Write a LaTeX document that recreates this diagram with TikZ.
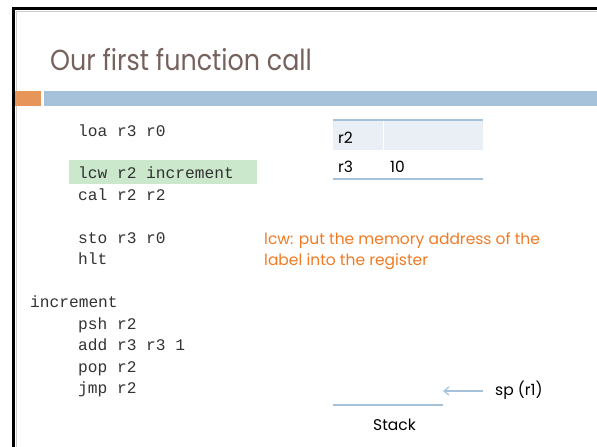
\documentclass[tikz,border=0pt]{standalone}
\usepackage{fontspec}
\setmainfont{Poppins}
\setmonofont{Liberation Mono}
\usetikzlibrary{arrows.meta}
\definecolor{titlec}{RGB}{118,98,92}
\definecolor{orbar}{RGB}{232,149,90}
\definecolor{blbar}{RGB}{165,194,218}
\definecolor{hlgreen}{RGB}{204,232,204}
\definecolor{rowbg}{RGB}{233,239,244}
\definecolor{notec}{RGB}{240,122,36}
\definecolor{codec}{RGB}{50,50,50}
\tikzset{
  code/.style={anchor=base west, inner sep=0pt, font=\ttfamily\fontsize{16.2}{19}\selectfont, text=codec},
  body/.style={anchor=base west, inner sep=0pt, font=\fontsize{15.5}{18}\selectfont, text=black},
  note/.style={anchor=base west, inner sep=0pt, font=\fontsize{15.5}{18}\selectfont, text=notec},
  rule/.style={draw=blbar, line width=1.2pt},
}
\begin{document}
\begin{tikzpicture}[x=1pt,y=-1pt]
\useasboundingbox (0,0) rectangle (597,447);
% frame
\draw[gray!40, line width=0.8pt] (16.5,447) -- (16.5,11) -- (597,11);
\draw[black, line width=3pt] (13.5,447) -- (13.5,8.5) -- (597,8.5);
% title
\node[anchor=base west, inner sep=0pt, text=titlec, font=\fontsize{29}{34}\selectfont] (title) at (50,70) {\scalebox{0.875}[1]{Our first function call}};
% bars
\fill[orbar] (15,91) rectangle (41,106);
\fill[blbar] (44,91) rectangle (597,106);
% highlight
\fill[hlgreen] (69,160) rectangle (257,184);
% code
\node[code] (l1) at (78,136) {loa r3 r0};
\node[code] (l2) at (78,178) {lcw r2 increment};
\node[code] (l3) at (78,200) {cal r2 r2};
\node[code] (l4) at (78,243) {sto r3 r0};
\node[code] (l5) at (78,264) {hlt};
\node[code] (l6) at (30,307) {increment};
\node[code] (l7) at (78,329) {psh r2};
\node[code] (l8) at (78,350) {add r3 r3 1};
\node[code] (l9) at (78,372) {pop r2};
\node[code] (l10) at (78,393) {jmp r2};
% register table
\fill[rowbg] (333,120) rectangle (483,150);
\draw[white, line width=1pt] (383,120) -- (383,150);
\draw[rule] (333,120) -- (483,120);
\draw[rule] (333,179) -- (483,179);
\node[body] (r2) at (338,143) {r2};
\node[body] (r3) at (338,172) {r3};
\node[body] (v3) at (390,172) {10};
% note
\node[note] (n1) at (264,244) {lcw: put the memory address of the};
\node[note] (n2) at (264,265) {label into the register};
% stack
\coordinate (sb1) at (333,405);
\coordinate (sb2) at (443,405);
\draw[rule] (sb1) -- (sb2);
\node[body] (stack) at (373,430) {Stack};
\node[body] (sp) at (495,395) {sp (r1)};
\coordinate (spstart) at (483,391);
\coordinate (spend) at (443,391);
\draw[blbar, line width=1.2pt, -{Straight Barb[length=5pt,width=8pt]}] (spstart) -- (spend);
\end{tikzpicture}
\end{document}
